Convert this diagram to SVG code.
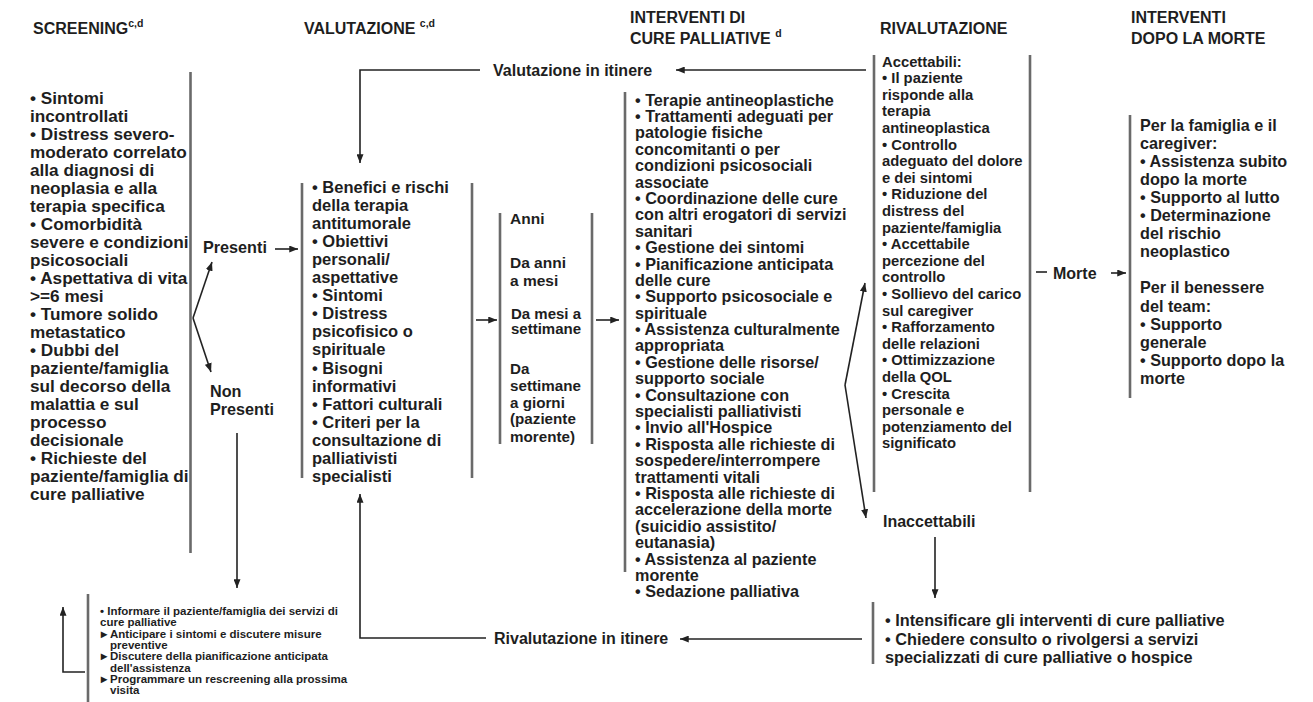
<svg xmlns="http://www.w3.org/2000/svg" width="1313" height="702" viewBox="0 0 1313 702">
<defs>
<style>
.t{font-family:"Liberation Sans",Arial,Helvetica,sans-serif;font-weight:bold;fill:#1e1e1e}
.h{font-size:16px}
.sup{font-size:10.5px}
.bar{stroke:#6a6a6a;stroke-width:2.6;fill:none}
.ar{stroke:#222;stroke-width:1.6;fill:none;marker-end:url(#ah)}
.ln{stroke:#222;stroke-width:1.6;fill:none}
</style>
<marker id="ah" viewBox="0 0 10 8" refX="10" refY="4" markerWidth="9" markerHeight="7" markerUnits="userSpaceOnUse" orient="auto">
<path d="M0,0 L10,4 L0,8 z" fill="#222"/>
</marker>
</defs>
<rect width="1313" height="702" fill="#fff"/>

<g id="headers">
<text class="t h" x="33" y="34">SCREENING<tspan class="sup" dy="-7">c,d</tspan></text>
<text class="t h" x="304" y="34">VALUTAZIONE <tspan class="sup" dy="-7">c,d</tspan></text>
<text class="t h" x="630" y="23">INTERVENTI DI<tspan x="630" y="44">CURE PALLIATIVE </tspan><tspan class="sup" dy="-7">d</tspan></text>
<text class="t h" x="880" y="34">RIVALUTAZIONE</text>
<text class="t h" x="1131" y="23">INTERVENTI<tspan x="1131" y="44">DOPO LA MORTE</tspan></text>
</g>

<g id="screening">
<line class="bar" x1="190.5" y1="72" x2="190.5" y2="553"/>
<text class="t" font-size="17.2" x="30" y="104">
<tspan x="30" dy="0">• Sintomi</tspan>
<tspan x="30" dy="18">incontrollati</tspan>
<tspan x="30" dy="18">• Distress severo-</tspan>
<tspan x="30" dy="18">moderato correlato</tspan>
<tspan x="30" dy="18">alla diagnosi di</tspan>
<tspan x="30" dy="18">neoplasia e alla</tspan>
<tspan x="30" dy="18">terapia specifica</tspan>
<tspan x="30" dy="18">• Comorbidità</tspan>
<tspan x="30" dy="18">severe e condizioni</tspan>
<tspan x="30" dy="18">psicosociali</tspan>
<tspan x="30" dy="18">• Aspettativa di vita</tspan>
<tspan x="30" dy="18">&gt;=6 mesi</tspan>
<tspan x="30" dy="18">• Tumore solido</tspan>
<tspan x="30" dy="18">metastatico</tspan>
<tspan x="30" dy="18">• Dubbi del</tspan>
<tspan x="30" dy="18">paziente/famiglia</tspan>
<tspan x="30" dy="18">sul decorso della</tspan>
<tspan x="30" dy="18">malattia e sul</tspan>
<tspan x="30" dy="18">processo</tspan>
<tspan x="30" dy="18">decisionale</tspan>
<tspan x="30" dy="18">• Richieste del</tspan>
<tspan x="30" dy="18">paziente/famiglia di</tspan>
<tspan x="30" dy="18">cure palliative</tspan>
</text>
</g>

<g id="presenti">
<text class="t" font-size="16.2" x="203" y="253">Presenti</text>
</g>
<g id="non-presenti">
<text class="t" font-size="16.2" x="210" y="397">Non<tspan x="210" y="415">Presenti</tspan></text>
</g>

<g id="valutazione">
<line class="bar" x1="302" y1="183" x2="302" y2="478"/>
<line class="bar" x1="472" y1="183" x2="472" y2="478"/>
<text class="t" font-size="16.5" x="312" y="192.5">
<tspan x="312" dy="0">• Benefici e rischi</tspan>
<tspan x="312" dy="18.1">della terapia</tspan>
<tspan x="312" dy="18.1">antitumorale</tspan>
<tspan x="312" dy="18.1">• Obiettivi</tspan>
<tspan x="312" dy="18.1">personali/</tspan>
<tspan x="312" dy="18.1">aspettative</tspan>
<tspan x="312" dy="18.1">• Sintomi</tspan>
<tspan x="312" dy="18.1">• Distress</tspan>
<tspan x="312" dy="18.1">psicofisico o</tspan>
<tspan x="312" dy="18.1">spirituale</tspan>
<tspan x="312" dy="18.1">• Bisogni</tspan>
<tspan x="312" dy="18.1">informativi</tspan>
<tspan x="312" dy="18.1">• Fattori culturali</tspan>
<tspan x="312" dy="18.1">• Criteri per la</tspan>
<tspan x="312" dy="18.1">consultazione di</tspan>
<tspan x="312" dy="18.1">palliativisti</tspan>
<tspan x="312" dy="18.1">specialisti</tspan>
</text>
</g>

<g id="tempi">
<line class="bar" x1="500" y1="213" x2="500" y2="444"/>
<line class="bar" x1="592" y1="213" x2="592" y2="444"/>
<text class="t" font-size="15.5" x="510" y="223.5">Anni</text>
<text class="t" font-size="15.5" x="510" y="267.5">Da anni<tspan x="510" y="285.5">a mesi</tspan></text>
<text class="t" font-size="15" x="511" y="318.5">Da mesi a<tspan x="511" y="333.5">settimane</tspan></text>
<text class="t" font-size="15.2" x="510" y="373.5">Da<tspan x="510" y="390.5">settimane</tspan><tspan x="510" y="407.5">a giorni</tspan><tspan x="510" y="424">(paziente</tspan><tspan x="510" y="442">morente)</tspan></text>
</g>

<g id="interventi">
<line class="bar" x1="625" y1="92" x2="625" y2="572"/>
<text class="t" font-size="16.2" x="635" y="105.5">
<tspan x="635" dy="0">• Terapie antineoplastiche</tspan>
<tspan x="635" dy="16.4">• Trattamenti adeguati per</tspan>
<tspan x="635" dy="16.4">patologie fisiche</tspan>
<tspan x="635" dy="16.4">concomitanti o per</tspan>
<tspan x="635" dy="16.4">condizioni psicosociali</tspan>
<tspan x="635" dy="16.4">associate</tspan>
<tspan x="635" dy="16.4">• Coordinazione delle cure</tspan>
<tspan x="635" dy="16.4">con altri erogatori di servizi</tspan>
<tspan x="635" dy="16.4">sanitari</tspan>
<tspan x="635" dy="16.4">• Gestione dei sintomi</tspan>
<tspan x="635" dy="16.4">• Pianificazione anticipata</tspan>
<tspan x="635" dy="16.4">delle cure</tspan>
<tspan x="635" dy="16.4">• Supporto psicosociale e</tspan>
<tspan x="635" dy="16.4">spirituale</tspan>
<tspan x="635" dy="16.4">• Assistenza culturalmente</tspan>
<tspan x="635" dy="16.4">appropriata</tspan>
<tspan x="635" dy="16.4">• Gestione delle risorse/</tspan>
<tspan x="635" dy="16.4">supporto sociale</tspan>
<tspan x="635" dy="16.4">• Consultazione con</tspan>
<tspan x="635" dy="16.4">specialisti palliativisti</tspan>
<tspan x="635" dy="16.4">• Invio all'Hospice</tspan>
<tspan x="635" dy="16.4">• Risposta alle richieste di</tspan>
<tspan x="635" dy="16.4">sospedere/interrompere</tspan>
<tspan x="635" dy="16.4">trattamenti vitali</tspan>
<tspan x="635" dy="16.4">• Risposta alle richieste di</tspan>
<tspan x="635" dy="16.4">accelerazione della morte</tspan>
<tspan x="635" dy="16.4">(suicidio assistito/</tspan>
<tspan x="635" dy="16.4">eutanasia)</tspan>
<tspan x="635" dy="16.4">• Assistenza al paziente</tspan>
<tspan x="635" dy="16.4">morente</tspan>
<tspan x="635" dy="16.4">• Sedazione palliativa</tspan>
</text>
</g>

<g id="accettabili">
<line class="bar" x1="874" y1="55" x2="874" y2="492"/>
<line class="bar" x1="1030" y1="55" x2="1030" y2="492"/>
<text class="t" font-size="14.8" x="882" y="66.5">
<tspan x="882" dy="0">Accettabili:</tspan>
<tspan x="882" dy="16.6">• Il paziente</tspan>
<tspan x="882" dy="16.6">risponde alla</tspan>
<tspan x="882" dy="16.6">terapia</tspan>
<tspan x="882" dy="16.6">antineoplastica</tspan>
<tspan x="882" dy="16.6">• Controllo</tspan>
<tspan x="882" dy="16.6">adeguato del dolore</tspan>
<tspan x="882" dy="16.6">e dei sintomi</tspan>
<tspan x="882" dy="16.6">• Riduzione del</tspan>
<tspan x="882" dy="16.6">distress del</tspan>
<tspan x="882" dy="16.6">paziente/famiglia</tspan>
<tspan x="882" dy="16.6">• Accettabile</tspan>
<tspan x="882" dy="16.6">percezione del</tspan>
<tspan x="882" dy="16.6">controllo</tspan>
<tspan x="882" dy="16.6">• Sollievo del carico</tspan>
<tspan x="882" dy="16.6">sul caregiver</tspan>
<tspan x="882" dy="16.6">• Rafforzamento</tspan>
<tspan x="882" dy="16.6">delle relazioni</tspan>
<tspan x="882" dy="16.6">• Ottimizzazione</tspan>
<tspan x="882" dy="16.6">della QOL</tspan>
<tspan x="882" dy="16.6">• Crescita</tspan>
<tspan x="882" dy="16.6">personale e</tspan>
<tspan x="882" dy="16.6">potenziamento del</tspan>
<tspan x="882" dy="16.6">significato</tspan>
</text>
</g>

<g id="morte">
<text class="t" font-size="16" x="1053" y="278.5">Morte</text>
</g>

<g id="dopo-morte">
<line class="bar" x1="1130" y1="115" x2="1130" y2="398"/>
<text class="t" font-size="16.2" x="1140" y="130.5">
<tspan x="1140" dy="0">Per la famiglia e il</tspan>
<tspan x="1140" dy="18.1">caregiver:</tspan>
<tspan x="1140" dy="18.1">• Assistenza subito</tspan>
<tspan x="1140" dy="18.1">dopo la morte</tspan>
<tspan x="1140" dy="18.1">• Supporto al lutto</tspan>
<tspan x="1140" dy="18.1">• Determinazione</tspan>
<tspan x="1140" dy="18.1">del rischio</tspan>
<tspan x="1140" dy="18.1">neoplastico</tspan>
<tspan x="1140" dy="36.2">Per il benessere</tspan>
<tspan x="1140" dy="18.1">del team:</tspan>
<tspan x="1140" dy="18.1">• Supporto</tspan>
<tspan x="1140" dy="18.1">generale</tspan>
<tspan x="1140" dy="18.1">• Supporto dopo la</tspan>
<tspan x="1140" dy="18.1">morte</tspan>
</text>
</g>

<g id="inaccettabili">
<text class="t" font-size="16" x="883" y="527">Inaccettabili</text>
</g>

<g id="intensificare">
<line class="bar" x1="873" y1="602" x2="873" y2="664"/>
<text class="t" font-size="16.3" x="885" y="626">• Intensificare gli interventi di cure palliative<tspan x="885" y="644.5">• Chiedere consulto o rivolgersi a servizi</tspan><tspan x="885" y="663">specializzati di cure palliative o hospice</tspan></text>
</g>

<g id="informare">
<line class="bar" x1="88" y1="594" x2="88" y2="702"/>
<text class="t" font-size="11.5" x="100" y="615">
<tspan x="100" y="615">• Informare il paziente/famiglia dei servizi di</tspan>
<tspan x="100" y="626.3">cure palliative</tspan>
<tspan x="101" y="637.6">▸</tspan><tspan x="110" y="637.6">Anticipare i sintomi e discutere misure</tspan>
<tspan x="110" y="648.9">preventive</tspan>
<tspan x="101" y="660.2">▸</tspan><tspan x="110" y="660.2">Discutere della pianificazione anticipata</tspan>
<tspan x="110" y="671.5">dell'assistenza</tspan>
<tspan x="101" y="682.8">▸</tspan><tspan x="110" y="682.8">Programmare un rescreening alla prossima</tspan>
<tspan x="110" y="694.1">visita</tspan>
</text>
</g>

<g id="valutazione-itinere">
<text class="t" font-size="16" x="493" y="76">Valutazione in itinere</text>
</g>
<g id="rivalutazione-itinere">
<text class="t" font-size="16" x="494" y="644">Rivalutazione in itinere</text>
</g>

<g id="connectors">
<path class="ar" d="M193,318 L212,262"/>
<path class="ar" d="M193,318 L211,372"/>
<path class="ar" d="M275,249 L298,249"/>
<path class="ar" d="M237,433 L237,588"/>
<path class="ar" d="M85,672 L63,672 L63,607"/>
<path class="ar" d="M476,320 L497,320"/>
<path class="ar" d="M596,320 L619,320"/>
<path class="ar" d="M845,385 L865,283"/>
<path class="ar" d="M845,385 L866,518"/>
<path class="ln" d="M1036,272 L1047,272"/>
<path class="ar" d="M1111,273 L1126,273"/>
<path class="ar" d="M935,537 L935,598"/>
<path class="ar" d="M866,70 L676,70"/>
<path class="ar" d="M480,70 L360,70 L360,163"/>
<path class="ar" d="M862,639 L680,639"/>
<path class="ar" d="M486,638 L360,638 L360,494"/>
</g>
</svg>
